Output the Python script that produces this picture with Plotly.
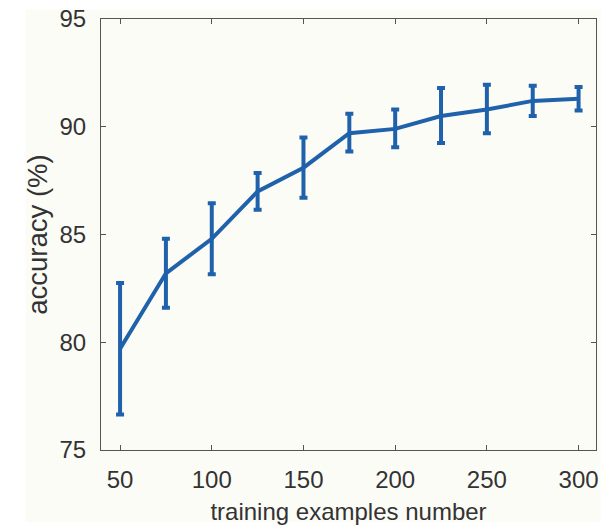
import plotly.graph_objects as go

examples = [50, 75, 100, 125, 150, 175, 200, 225, 250, 275, 300]
accuracy = [79.7, 83.2, 84.8, 87.0, 88.1, 89.7, 89.9, 90.5, 90.8, 91.2, 91.3]
err_upper = [3.05, 1.6, 1.65, 0.85, 1.4, 0.9, 0.9, 1.3, 1.15, 0.7, 0.55]
err_lower = [3.05, 1.6, 1.65, 0.85, 1.4, 0.85, 0.85, 1.25, 1.1, 0.7, 0.55]

x_ticks = [50, 100, 150, 200, 250, 300]
y_ticks = [75, 80, 85, 90, 95]

blue = "#1f62ab"
bg = "#fcfcf7"
axis_col = "#555555"
font_col = "#333333"

fig = go.Figure()
fig.add_trace(go.Scatter(
    x=examples, y=accuracy, mode="lines",
    line=dict(color=blue, width=4),
    error_y=dict(type="data", symmetric=False, array=err_upper, arrayminus=err_lower,
                 color=blue, thickness=4, width=4),
    showlegend=False,
))

fig.update_layout(
    width=601, height=526,
    margin=dict(l=101, r=5, t=19, b=76),
    paper_bgcolor="white",
    plot_bgcolor=bg,
    font=dict(family="Liberation Sans, Arial, sans-serif", size=24, color=font_col),
    shapes=[dict(type="rect", xref="paper", yref="paper",
                 x0=-0.153, x1=1.02, y0=-0.167, y1=1.022,
                 fillcolor=bg, line=dict(width=0), layer="below")],
)
fig.update_xaxes(
    range=[39.6, 309.5], tickvals=x_ticks, ticktext=[str(v) for v in x_ticks],
    ticks="inside", ticklen=5, tickcolor=axis_col, tickwidth=1,
    showline=True, linecolor=axis_col, linewidth=1, mirror="ticks",
    showgrid=False, zeroline=False, ticklabelstandoff=8, ticklabeloverflow="allow",
    automargin=False,
    title=dict(text="training examples number", font=dict(size=24, color=font_col), standoff=11),
    tickfont=dict(size=24, color=font_col),
)
fig.update_yaxes(
    range=[75, 95], tickvals=y_ticks, ticktext=[str(v) for v in y_ticks],
    ticks="inside", ticklen=5, tickcolor=axis_col, tickwidth=1,
    showline=True, linecolor=axis_col, linewidth=1, mirror="ticks",
    showgrid=False, zeroline=False, ticklabelstandoff=9, ticklabeloverflow="allow",
    automargin=False,
    title=dict(text="accuracy (%)", font=dict(size=27.5, color=font_col), standoff=3),
    tickfont=dict(size=24, color=font_col),
)

fig.write_html(
    "out.html",
    config={"displayModeBar": False},
    post_script="document.body.style.margin='0';document.body.style.overflow='hidden';",
)
